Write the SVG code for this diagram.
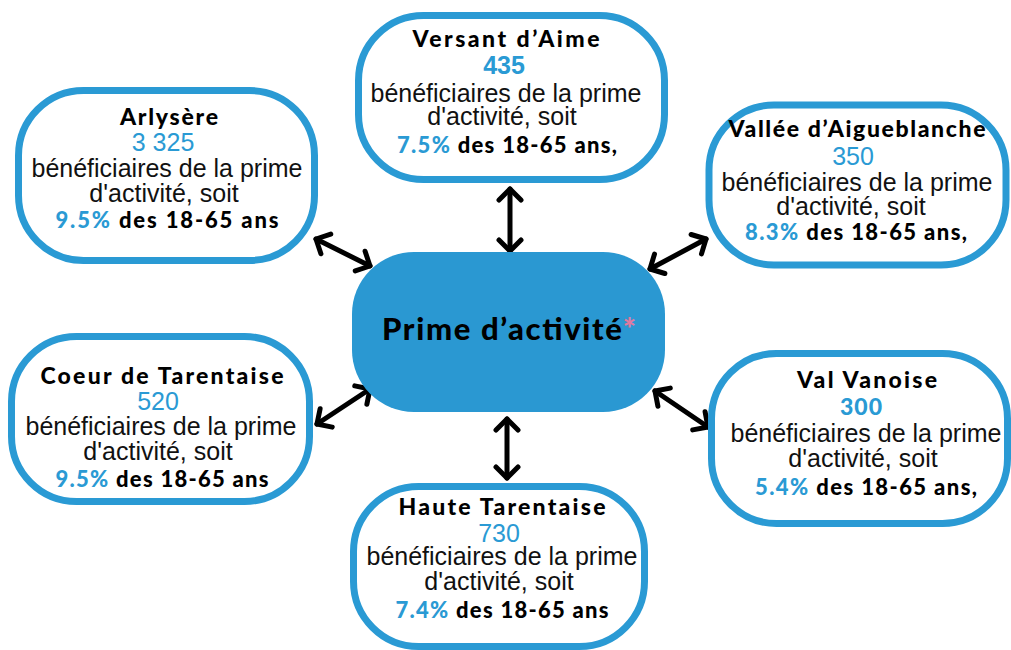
<svg xmlns="http://www.w3.org/2000/svg" width="1011" height="650" viewBox="0 0 1011 650">
<style>
.box{fill:#fff;stroke:#2a9ad4;stroke-width:7}
.hub{fill:#2a98d2}
.t{font-family:Lato,"Noto Sans",sans-serif;font-weight:900;font-size:23px;fill:#000;text-anchor:middle}
.q{font-size:22px}
.b{font-family:"Liberation Sans",Arial,sans-serif;font-size:25px;fill:#111;text-anchor:middle}
.n{fill:#2a9ad4}
.nb{fill:#2a9ad4;font-weight:bold}
.p{fill:#2a9ad4}
.arr{stroke:#000;stroke-width:5;fill:none;stroke-linecap:round;marker-start:url(#ah);marker-end:url(#ah)}
</style>
<defs>
<marker id="ah" markerUnits="userSpaceOnUse" viewBox="-20 -20 40 40" markerWidth="40" markerHeight="40" refX="0" refY="0" orient="auto-start-reverse">
<path d="M-11,-11 L0,0 L-11,11" stroke="#000" stroke-width="5" fill="none" stroke-linecap="round" stroke-linejoin="round"/>
</marker>
</defs>
<rect width="1011" height="650" fill="#fff"/>
<g id="connectors">
<line class="arr" x1="316" y1="239" x2="370" y2="266"/>
<line class="arr" x1="510" y1="189" x2="510" y2="251"/>
<line class="arr" x1="650" y1="269" x2="706" y2="239"/>
<line class="arr" x1="317" y1="424" x2="370" y2="389"/>
<line class="arr" x1="655" y1="391" x2="708" y2="427"/>
<line class="arr" x1="507" y1="419" x2="507" y2="478"/>
</g>
<g id="hub">
<rect class="hub" x="352" y="252" width="313" height="160" rx="62"/>
<text class="t" x="509" y="340" style="font-size:31px" textLength="254" lengthAdjust="spacing">Prime d’activité<tspan fill="#e07aa0">*</tspan></text>
</g>
<g id="arlysere">
<rect class="box" x="18.5" y="90.5" width="296" height="170" rx="65"/>
<text class="t" x="169" y="125" textLength="98" lengthAdjust="spacing">Arlysère</text>
<text class="b n" x="163" y="151">3 325</text>
<text class="b" x="167" y="177">bénéficiaires de la prime</text>
<text class="b" x="164" y="202">d'activité, soit</text>
<text class="t q" x="167" y="228" textLength="223" lengthAdjust="spacing"><tspan class="p">9.5%</tspan>  des 18-65 ans</text>
</g>
<g id="versant">
<rect class="box" x="358.5" y="15.5" width="306" height="164" rx="65"/>
<text class="t" x="506" y="47" textLength="187" lengthAdjust="spacing">Versant d’Aime</text>
<text class="b nb" x="504" y="74">435</text>
<text class="b" x="506" y="102">bénéficiaires de la prime</text>
<text class="b" x="502" y="125">d'activité, soit</text>
<text class="t q" x="507" y="153" textLength="220" lengthAdjust="spacing"><tspan class="p">7.5%</tspan> des 18-65 ans,</text>
</g>
<g id="vallee">
<rect class="box" x="709" y="105" width="297" height="160" rx="65"/>
<text class="t" x="857" y="137" textLength="257" lengthAdjust="spacing">Vallée d’Aigueblanche</text>
<text class="b n" x="853" y="165">350</text>
<text class="b" x="857" y="191">bénéficiaires de la prime</text>
<text class="b" x="851" y="215">d'activité, soit</text>
<text class="t q" x="856" y="240" textLength="222" lengthAdjust="spacing"><tspan class="p">8.3%</tspan> des 18-65 ans,</text>
</g>
<g id="coeur">
<rect class="box" x="11.5" y="336.5" width="298" height="165" rx="65"/>
<text class="t" x="162" y="384" textLength="243" lengthAdjust="spacing">Coeur de Tarentaise</text>
<text class="b n" x="158" y="410">520</text>
<text class="b" x="161" y="435">bénéficiaires de la prime</text>
<text class="b" x="158" y="460">d'activité, soit</text>
<text class="t q" x="162" y="487" textLength="213" lengthAdjust="spacing"><tspan class="p">9.5%</tspan> des 18-65 ans</text>
</g>
<g id="valvanoise">
<rect class="box" x="711.5" y="353.5" width="296" height="170" rx="65"/>
<text class="t" x="867" y="388" textLength="140" lengthAdjust="spacing">Val Vanoise</text>
<text class="t p" x="861" y="415" style="font-size:23px" textLength="42" lengthAdjust="spacing">300</text>
<text class="b" x="866" y="442">bénéficiaires de la prime</text>
<text class="b" x="863" y="467">d'activité, soit</text>
<text class="t q" x="866" y="495" textLength="222" lengthAdjust="spacing"><tspan class="p">5.4%</tspan> des 18-65 ans,</text>
</g>
<g id="haute">
<rect class="box" x="353.5" y="486.5" width="291" height="160" rx="65"/>
<text class="t" x="502" y="515" textLength="207" lengthAdjust="spacing">Haute Tarentaise</text>
<text class="b n" x="499" y="542">730</text>
<text class="b" x="502" y="565">bénéficiaires de la prime</text>
<text class="b" x="499" y="590">d'activité, soit</text>
<text class="t q" x="502" y="618" textLength="213" lengthAdjust="spacing"><tspan class="p">7.4%</tspan> des 18-65 ans</text>
</g>
</svg>
